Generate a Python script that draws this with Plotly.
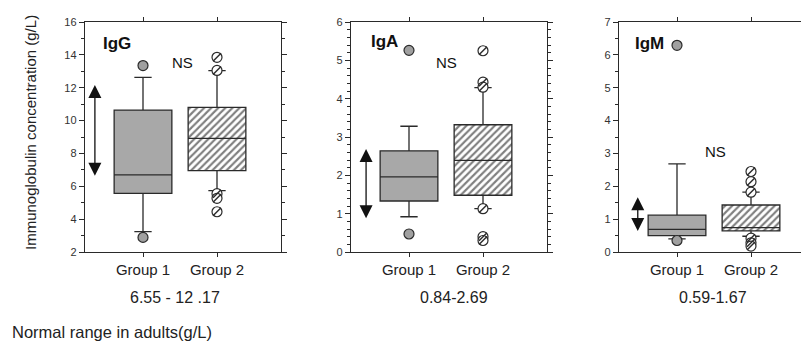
import plotly.graph_objects as go

# ---------------- data ----------------
panels = ["IgG", "IgA", "IgM"]
groups = ["Group 1", "Group 2"]

# box statistics per panel: [group1, group2]
q1 = [[5.57, 6.95], [1.33, 1.48], [0.50, 0.64]]
median = [[6.69, 8.92], [1.96, 2.39], [0.69, 0.74]]
q3 = [[10.64, 10.80], [2.64, 3.32], [1.12, 1.43]]
lowerfence = [[3.24, 5.73], [0.92, 1.13], [0.40, 0.48]]
upperfence = [[12.63, 13.04], [3.28, 4.29], [2.68, 1.82]]

outliers_g1 = [[13.35, 2.89], [5.26, 0.47], [6.29, 0.35]]
outliers_g2 = [[13.85, 13.05, 5.55, 5.27, 4.45],
               [5.25, 4.43, 4.30, 1.13, 0.40, 0.30],
               [2.45, 2.14, 1.82, 0.42, 0.28, 0.18]]

normal_low = [6.55, 0.84, 0.59]
normal_high = [12.17, 2.69, 1.67]
normal_labels = ["6.55 - 12 .17", "0.84-2.69", "0.59-1.67"]

y_ranges = [[2, 16], [0, 6], [0, 7]]
y_dticks = [2, 1, 1]
y_minor = [1, 0.2, 0.5]

y_title = "Immunoglobulin concentration (g/L)"
ns_label = "NS"
footer = "Normal range in adults(g/L)"

# ---------------- styling / layout ----------------
W, H = 809, 351
OFF = 8  # page body margin offset
FONT = "Liberation Sans, Arial, sans-serif"
DARK = "#2a2a2a"
GRAY = "#a8a8a8"


def px_x(p):
    return (p - OFF) / W


def px_y(p):
    return 1 - (p - OFF) / H


x_left_px = [85, 351, 619]
px_per_unit = 74.0
left_off = 58 / px_per_unit
top_px, bot_px = 22, 252
ydom = [px_y(bot_px), px_y(top_px)]

arrow_x = [0.35, 0.42, 0.47]
label_pos = [(117, 43), (384, 41), (649, 43)]
ns_pos = [(182, 63), (446, 63), (715, 151)]
foot_x = [175, 454, 713]

fig = go.Figure()
layout_axes = {}

for i in range(3):
    sfx = "" if i == 0 else str(i + 1)
    xa, ya = "x" + sfx, "y" + sfx
    x0 = px_x(x_left_px[i])
    width_px = 196 if i < 2 else (W + OFF - x_left_px[i])
    x1 = min(px_x(x_left_px[i] + width_px), 1.0)
    xr = [1 - left_off, 1 - left_off + width_px / px_per_unit]

    # hatched fill for group 2 box
    fig.add_trace(go.Bar(
        x=[2], y=[q3[i][1] - q1[i][1]], base=[q1[i][1]], width=0.78,
        marker=dict(color="white", line=dict(width=0),
                    pattern=dict(shape="/", fgcolor="#000000", bgcolor="white",
                                 size=5, solidity=0.42)),
        xaxis=xa, yaxis=ya, showlegend=False, hoverinfo="skip"))

    for g in range(2):
        fig.add_trace(go.Box(
            x=[g + 1], q1=[q1[i][g]], median=[median[i][g]], q3=[q3[i][g]],
            lowerfence=[lowerfence[i][g]], upperfence=[upperfence[i][g]],
            width=0.78, whiskerwidth=0.3, boxpoints=False,
            fillcolor=GRAY if g == 0 else "rgba(0,0,0,0)",
            line=dict(color=DARK, width=1.3),
            xaxis=xa, yaxis=ya, showlegend=False))

    fig.add_trace(go.Scatter(
        x=[1] * len(outliers_g1[i]), y=outliers_g1[i], mode="markers",
        marker=dict(symbol="circle", size=10, color="#a0a0a0",
                    line=dict(color=DARK, width=1.2)),
        xaxis=xa, yaxis=ya, showlegend=False))
    fig.add_trace(go.Scatter(
        x=[2] * len(outliers_g2[i]), y=outliers_g2[i], mode="markers",
        marker=dict(symbol="circle", size=10, color="white",
                    line=dict(color=DARK, width=1.2)),
        xaxis=xa, yaxis=ya, showlegend=False))
    fig.add_trace(go.Scatter(
        x=[2] * len(outliers_g2[i]), y=outliers_g2[i], mode="markers",
        marker=dict(symbol="line-ne", size=8, color=DARK,
                    line=dict(color=DARK, width=1.5)),
        xaxis=xa, yaxis=ya, showlegend=False))

    layout_axes["xaxis" + sfx] = dict(
        domain=[x0, x1], anchor=ya, range=xr,
        tickvals=[1, 2], ticktext=groups, ticks="outside", ticklen=4,
        tickcolor=DARK, showline=True, linecolor=DARK, linewidth=1.4,
        mirror="ticks", showgrid=False, zeroline=False, automargin=False,
        tickfont=dict(family=FONT, size=15, color="#222222"))
    layout_axes["yaxis" + sfx] = dict(
        domain=ydom, anchor=xa, range=y_ranges[i], dtick=y_dticks[i],
        ticks="outside", ticklen=5, tickcolor=DARK, showline=True,
        linecolor=DARK, linewidth=1.4,
        mirror="ticks", automargin=False,
        showgrid=False, zeroline=False,
        minor=dict(dtick=y_minor[i], ticks="outside", ticklen=3, tickcolor=DARK),
        tickfont=dict(family=FONT, size=11, color="#333333"))

annotations = []
for i in range(3):
    sfx = "" if i == 0 else str(i + 1)
    annotations.append(dict(
        x=arrow_x[i], y=normal_high[i], ax=arrow_x[i], ay=normal_low[i],
        xref="x" + sfx, yref="y" + sfx, axref="x" + sfx, ayref="y" + sfx,
        text="", showarrow=True, arrowside="end+start",
        arrowhead=2, startarrowhead=2, arrowsize=2.0, startarrowsize=2.0,
        arrowwidth=1.3, arrowcolor="#111111"))
    annotations.append(dict(
        x=px_x(label_pos[i][0]), y=px_y(label_pos[i][1]), xref="paper", yref="paper",
        xanchor="center", yanchor="middle",
        text="<b>" + panels[i] + "</b>", showarrow=False,
        font=dict(family=FONT, size=17, color="#111111")))
    annotations.append(dict(
        x=px_x(ns_pos[i][0]), y=px_y(ns_pos[i][1]), xref="paper", yref="paper",
        xanchor="center", yanchor="middle",
        text=ns_label, showarrow=False,
        font=dict(family=FONT, size=15, color="#111111")))
    annotations.append(dict(
        x=px_x(foot_x[i]), y=px_y(297), xref="paper", yref="paper",
        xanchor="center", yanchor="middle",
        text=normal_labels[i], showarrow=False,
        font=dict(family=FONT, size=16, color="#222222")))

annotations.append(dict(
    x=px_x(30), y=px_y(133), xref="paper", yref="paper", text=y_title,
    xanchor="center", yanchor="middle",
    textangle=-90, showarrow=False,
    font=dict(family=FONT, size=15, color="#222222")))
annotations.append(dict(
    x=px_x(10), y=px_y(332), xref="paper", yref="paper", text=footer,
    xanchor="left", yanchor="middle", showarrow=False,
    font=dict(family=FONT, size=16.5, color="#222222")))

fig.update_layout(
    width=W, height=H, margin=dict(l=0, r=0, t=0, b=0, autoexpand=False),
    paper_bgcolor="white", plot_bgcolor="white",
    barmode="overlay", boxmode="overlay", showlegend=False,
    annotations=annotations, **layout_axes)

fig.write_html("out.html")
